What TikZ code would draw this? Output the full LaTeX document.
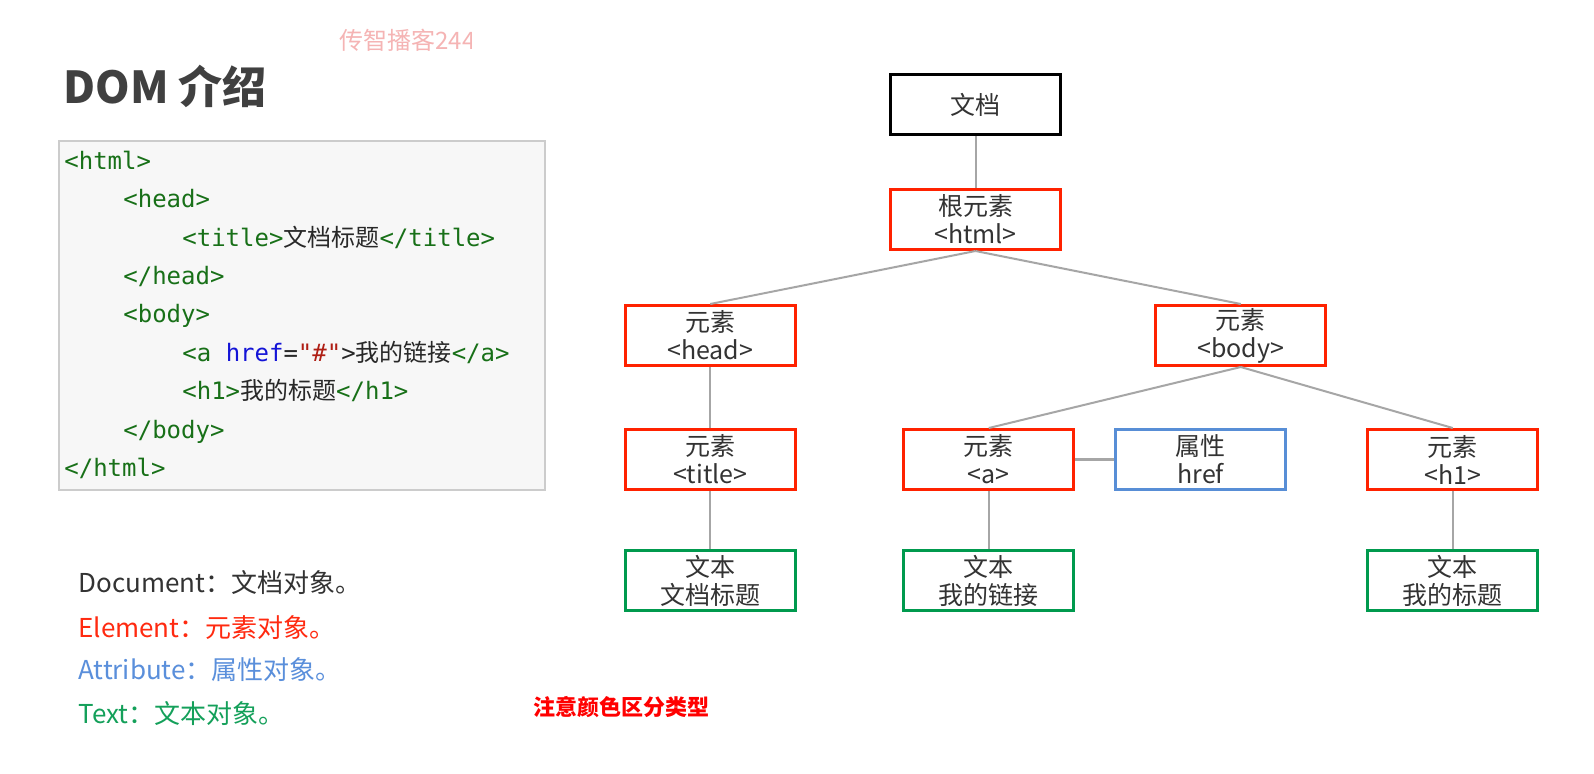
\documentclass[tikz,border=0pt]{standalone}
\usepackage{fontspec}
\setmainfont{Noto Sans CJK SC}
\setmonofont{DejaVu Sans Mono}
\newfontfamily\cjk{Noto Sans CJK SC}
\usetikzlibrary{positioning,trees}

\definecolor{elemred}{RGB}{255,34,0}
\definecolor{attrblue}{RGB}{88,142,214}
\definecolor{textgreen}{RGB}{0,154,78}
\definecolor{linkgray}{RGB}{166,166,166}
\definecolor{textgray}{RGB}{51,51,51}
\definecolor{titlegray}{RGB}{64,64,64}
\definecolor{codeback}{RGB}{247,247,247}
\definecolor{codeframe}{RGB}{204,204,204}
\definecolor{codegreen}{RGB}{24,112,24}
\definecolor{codetext}{RGB}{40,40,40}
\definecolor{hrefblue}{RGB}{20,20,215}
\definecolor{hashred}{RGB}{175,30,20}
\definecolor{legendred}{RGB}{255,42,16}
\definecolor{legendblue}{RGB}{90,143,219}
\definecolor{legendgreen}{RGB}{20,160,90}
\definecolor{markpink}{RGB}{245,180,180}
\definecolor{notered}{RGB}{255,0,0}

\newcommand{\zh}[1]{{\cjk\color{codetext}#1}}

\begin{document}
\begin{tikzpicture}[
    x=1pt, y=1pt,
    edge from parent/.style={draw=linkgray, line width=1pt},
    link/.style={draw=linkgray, line width=1.5pt},
    docnode/.style={rectangle, draw=black, line width=1.5pt, minimum width=85pt,
        minimum height=30pt, inner sep=1pt, align=center, anchor=north,
        text=textgray, font=\fontsize{12.5}{14}\selectfont},
    element/.style={docnode, draw=elemred},
    attribute/.style={docnode, draw=attrblue},
    textnode/.style={docnode, draw=textgreen},
    codeline/.style={anchor=base west, inner sep=0pt, text=codegreen,
        font=\ttfamily\fontsize{12}{14}\selectfont},
    legend/.style={anchor=base west, inner sep=0pt, font=\fontsize{13}{15}\selectfont},
    level 1/.style={level distance=26pt},
    level 2/.style={sibling distance=265.25pt, level distance=26.5pt},
    level 3/.style={sibling distance=232pt, level distance=30.5pt},
    level 4/.style={level distance=29pt},
    growth parent anchor=south, parent anchor=south, child anchor=north
]
\useasboundingbox [fill=white] (0,0) rectangle (797,-386.5);

% watermark, cut off at the right
\begin{scope}
\clip (160,-5) rectangle (235.5,-35);
\node (Mark) [anchor=base west, inner sep=0pt, text=markpink,
    font=\fontsize{12}{14}\selectfont] at (169.5,-24.5) {传智播客244};
\end{scope}

\node (Title) [anchor=base west, inner sep=0pt, text=titlegray,
    font=\bfseries\fontsize{22}{26}\selectfont] at (31.5,-51.5) {DOM 介绍};

% code box
\draw [fill=codeback, draw=codeframe, line width=1pt] (29.5,-70.5) rectangle (272.5,-245);
\node (Code01) [codeline] at (32,-84.5) {<html>};
\node (Code02) [codeline] at (61.5,-103.5) {<head>};
\node (Code03) [codeline] at (91,-123) {<title>\zh{文档标题}</title>};
\node (Code04) [codeline] at (61.5,-142) {</head>};
\node (Code05) [codeline] at (61.5,-161) {<body>};
\node (Code06) [codeline] at (91,-180.5) {<a \textcolor{hrefblue}{href}\textcolor{codetext}{=}\textcolor{hashred}{"\#"}\textcolor{codetext}{>}\zh{我的链接}</a>};
\node (Code07) [codeline] at (91,-199.5) {<h1>\zh{我的标题}</h1>};
\node (Code08) [codeline] at (61.5,-219) {</body>};
\node (Code09) [codeline] at (32,-238) {</html>};

% legend
\node (Legend01) [legend, text=textgray] at (39,-296) {Document：文档对象。};
\node (Legend02) [legend, text=legendred] at (39,-318.5) {Element：元素对象。};
\node (Legend03) [legend, text=legendblue] at (39,-339.5) {Attribute：属性对象。};
\node (Legend04) [legend, text=legendgreen] at (39,-361.5) {Text：文本对象。};

\node (Note) [anchor=base west, inner sep=0pt, text=notered,
    font=\bfseries\fontsize{11}{13}\selectfont] at (266.5,-357.5) {注意颜色区分类型};

% DOM tree
\node (Document) [docnode] at (487.75,-36.5) {文档}
  child {
    node (Element01) [element] {根元素\\<html>}
    child {
      node (Element02) [element] {元素\\<head>}
      child {
        node (Element04) [element] {元素\\<title>}
        child {
          node (Text01) [textnode] {文本\\文档标题}
        }
      }
    }
    child {
      node (Element03) [element] {元素\\<body>}
      child[xshift=-10pt] {
        node (Element05) [element] {元素\\<a>}
        child {
          node (Text02) [textnode] {文本\\我的链接}
        }
      }
      child[xshift=-10pt] {
        node (Element06) [element] {元素\\<h1>}
        child {
          node (Text03) [textnode] {文本\\我的标题}
        }
      }
    }
  }
;
\node (Attribute01) [attribute, right=19.5pt of Element05] {属性\\href};
\draw [link] (Element05) -- (Attribute01);
\end{tikzpicture}
\end{document}
